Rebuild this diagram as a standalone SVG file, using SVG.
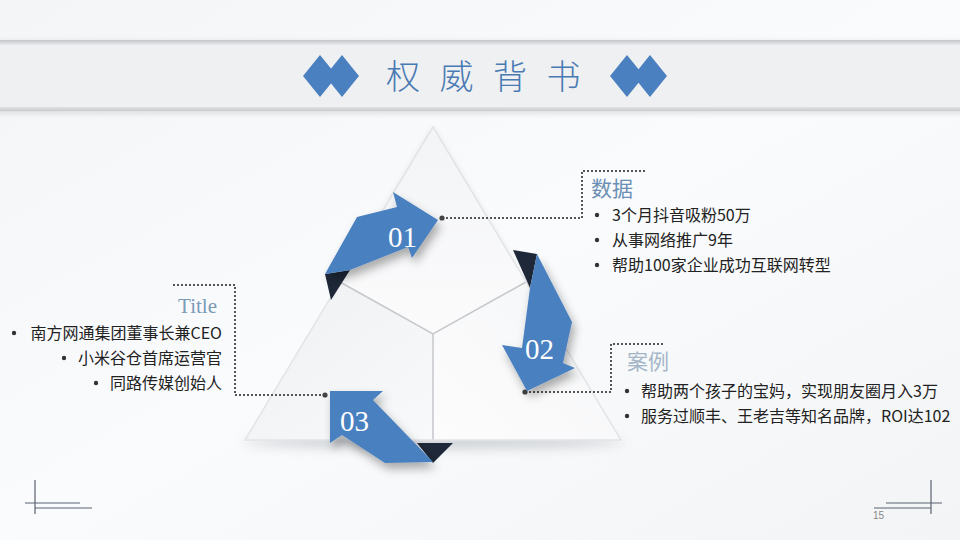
<svg xmlns="http://www.w3.org/2000/svg" width="960" height="540" viewBox="0 0 960 540">
<defs>
<style>
.dot{stroke:#555;stroke-width:2;stroke-dasharray:2 2;fill:none}
.pt{fill:#444}
.bu{fill:#333}
.bl{font-family:"Noto Sans CJK SC","Liberation Sans",sans-serif;font-size:16px;fill:#222}
.h{font-family:"Noto Sans CJK SC","Liberation Sans",sans-serif;font-size:21px}
.num{font-family:"Liberation Serif",serif;font-size:29px;fill:#fff}
.arr{fill:#4a80c0}
.fold{fill:#1e2838}
.cm{stroke:#5a6270;stroke-width:1.2}
.dia{fill:#4a80c0}
</style>
<linearGradient id="bg" x1="0" y1="0" x2="1" y2="1">
<stop offset="0" stop-color="#f4f5f7"/><stop offset="0.5" stop-color="#fafbfc"/><stop offset="1" stop-color="#f3f4f6"/>
</linearGradient>
<linearGradient id="band" x1="0" y1="0" x2="0" y2="1">
<stop offset="0" stop-color="#c2c4c8"/><stop offset="0.08" stop-color="#eef0f2"/><stop offset="0.9" stop-color="#f2f3f5"/><stop offset="1" stop-color="#c9cbce"/>
</linearGradient>
<linearGradient id="ptop" x1="0" y1="0" x2="0" y2="1">
<stop offset="0" stop-color="#f3f4f6"/><stop offset="1" stop-color="#fbfbfc"/>
</linearGradient>
<linearGradient id="pleft" x1="0" y1="0" x2="1" y2="1">
<stop offset="0" stop-color="#eef0f2"/><stop offset="1" stop-color="#f8f9fa"/>
</linearGradient>
<linearGradient id="pright" x1="1" y1="0" x2="0" y2="1">
<stop offset="0" stop-color="#f5f6f7"/><stop offset="1" stop-color="#fcfcfd"/>
</linearGradient>
<filter id="sh" x="-30%" y="-30%" width="160%" height="160%">
<feDropShadow dx="3" dy="6" stdDeviation="5" flood-color="#000" flood-opacity="0.32"/>
</filter>
<filter id="blur" x="-20%" y="-200%" width="140%" height="500%">
<feGaussianBlur stdDeviation="6"/>
</filter>
<filter id="tsh" x="-10%" y="-10%" width="120%" height="120%">
<feDropShadow dx="0" dy="2" stdDeviation="3" flood-color="#000" flood-opacity="0.12"/>
</filter>
</defs>

<rect width="960" height="540" fill="url(#bg)"/>

<g id="banner">
<rect x="-5" y="40" width="970" height="71" fill="url(#band)" filter="url(#tsh)"/>
<rect x="0" y="45" width="960" height="62" fill="#eff0f2"/>
<g id="dia-left">
<polygon class="dia" points="320,55 337,76 320,97 303,76"/>
<polygon class="dia" points="342,55 359,76 342,97 325,76"/>
</g>
<g id="dia-right">
<polygon class="dia" points="627,55 644,76 627,97 610,76"/>
<polygon class="dia" points="650,55 667,76 650,97 633,76"/>
</g>
<text x="386" y="89" font-family="Noto Sans CJK SC, sans-serif" font-size="34" font-weight="300" letter-spacing="19.5" fill="#4a7ab2">权威背书</text>
</g>

<g id="triangle">
<ellipse cx="433" cy="442" rx="190" ry="6" fill="#9aa0a8" opacity="0.5" filter="url(#blur)"/>
<polygon id="panel-top" points="433,127 340,282 433,334 526,282" fill="url(#ptop)" filter="url(#tsh)"/>
<polygon id="panel-left" points="340,282 433,334 433,440 245,440" fill="url(#pleft)"/>
<polygon id="panel-right" points="526,282 433,334 433,440 621,440" fill="url(#pright)"/>
<polyline points="340,282 433,334 526,282" fill="none" stroke="#c5c7cb" stroke-width="1.5"/>
<line x1="433" y1="334" x2="433" y2="440" stroke="#c5c7cb" stroke-width="1.5"/>
<polygon points="433,127 245,440 621,440" fill="none" stroke="#e2e4e7" stroke-width="1.5"/>
</g>

<g id="connectors">
<polyline class="dot" points="442,218 582,218 582,171 647,171"/>
<circle class="pt" cx="442" cy="218" r="2.6"/>
<polyline class="dot" points="525,392 611,392 611,344 663,344"/>
<circle class="pt" cx="525" cy="392" r="2.6"/>
<polyline class="dot" points="325,395 235,395 235,285 172,285"/>
<circle class="pt" cx="325" cy="395" r="2.6"/>
</g>

<g id="arrow-01">
<polygon class="fold" points="325,274 350,270 331,300"/>
<polygon class="arr" filter="url(#sh)" points="325,274 357,217 397,207 393,192 438,220 412,258 408,247 350,270"/>
<text class="num" x="388" y="247">01</text>
</g>

<g id="arrow-02">
<polygon class="fold" points="513,250 537,254 530,288"/>
<polygon class="arr" filter="url(#sh)" points="537,254 572,322 563,363 575,368 527,391 502,345 522,348 530,288"/>
<text class="num" x="525" y="359">02</text>
</g>

<g id="arrow-03">
<polygon class="fold" points="417,443 453,443 433,463"/>
<polygon class="arr" filter="url(#sh)" points="330,391 383,391 373,400 433,462 385,463 342,435 330,443"/>
<text class="num" x="340" y="431">03</text>
</g>

<g id="block-data">
<text class="h" x="591" y="196" fill="#6b8fb4">数据</text>
<circle class="bu" cx="597" cy="215" r="2.2"/>
<text class="bl" x="612" y="221">3个月抖音吸粉50万</text>
<circle class="bu" cx="597" cy="240" r="2.2"/>
<text class="bl" x="612" y="246">从事网络推广9年</text>
<circle class="bu" cx="597" cy="265" r="2.2"/>
<text class="bl" x="612" y="271">帮助100家企业成功互联网转型</text>
</g>

<g id="block-case">
<text class="h" x="627" y="369" fill="#a3b6c8">案例</text>
<circle class="bu" cx="627" cy="391" r="2.2"/>
<text class="bl" x="641" y="397">帮助两个孩子的宝妈，实现朋友圈月入3万</text>
<circle class="bu" cx="627" cy="416" r="2.2"/>
<text class="bl" x="641" y="422">服务过顺丰、王老吉等知名品牌，ROI达102</text>
</g>

<g id="block-title">
<text x="217" y="313" text-anchor="end" font-family="Liberation Serif, serif" font-size="21" fill="#7a9bb8">Title</text>
<circle class="bu" cx="14" cy="333" r="2.2"/>
<text class="bl" x="222" y="339" text-anchor="end">南方网通集团董事长兼CEO</text>
<circle class="bu" cx="64" cy="358" r="2.2"/>
<text class="bl" x="222" y="364" text-anchor="end">小米谷仓首席运营官</text>
<circle class="bu" cx="96" cy="383" r="2.2"/>
<text class="bl" x="222" y="389" text-anchor="end">同路传媒创始人</text>
</g>

<g id="corners">
<line class="cm" x1="35" y1="480" x2="35" y2="514"/>
<line class="cm" x1="25" y1="503" x2="80" y2="503"/>
<line class="cm" x1="35" y1="508" x2="92" y2="508"/>
<line class="cm" x1="931" y1="480" x2="931" y2="514"/>
<line class="cm" x1="886" y1="503" x2="942" y2="503"/>
<line class="cm" x1="874" y1="508" x2="931" y2="508"/>
<text x="873" y="519" font-family="Liberation Sans Narrow, Liberation Sans, sans-serif" font-size="10" fill="#888">15</text>
</g>
</svg>
